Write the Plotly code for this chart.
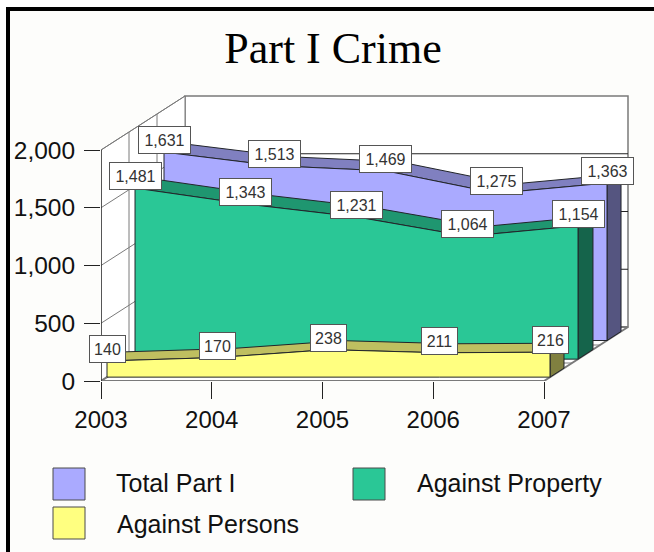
import numpy as np
import plotly.graph_objects as go

# --- DATA ---
YEARS = [2003, 2004, 2005, 2006, 2007]
TOTAL_PART_I = [1631, 1513, 1469, 1275, 1363]
AGAINST_PROPERTY = [1481, 1343, 1231, 1064, 1154]
AGAINST_PERSONS = [140, 170, 238, 211, 216]
Y_TICKS = [0, 500, 1000, 1500, 2000]

# --- STYLES ---
W, H = 654, 552
PLOT_L, PLOT_R, PLOT_T, PLOT_B = 101, 640, 90, 381
PX_PER_YEAR = 110.75
PX_PER_UNIT = 0.1155
DEPTH_PX_X, DEPTH_PX_Y = 84, 54

BG = '#FDFDFB'
WALL_GREY = '#7A7A7A'
OUTLINE = '#22252A'
TICK = '#222222'

# name, values, front face, top face, side face, front depth, back depth
SERIES = [
    ('Total Part I', TOTAL_PART_I, '#AAAAFF', '#8080C0', '#555580', 0.75, 0.917),
    ('Against Property', AGAINST_PROPERTY, '#2AC796', '#1F9670', '#15644B', 0.405, 0.583),
    ('Against Persons', AGAINST_PERSONS, '#FFFF80', '#BFBF60', '#808040', 0.0714, 0.238),
]


def project(years, values, z):
    # shear data points back along the depth axis, still in data units
    x = np.asarray(years, dtype=float) + z * DEPTH_PX_X / PX_PER_YEAR
    y = np.asarray(values, dtype=float) + z * DEPTH_PX_Y / PX_PER_UNIT
    return x, y


def poly(x, y, fill, line=OUTLINE, width=1):
    return go.Scatter(
        x=list(x) + [x[0]], y=list(y) + [y[0]],
        mode='lines', fill='toself', fillcolor=fill,
        line=dict(color=line, width=width),
        hoverinfo='skip', showlegend=False, cliponaxis=False,
    )


def wire(x, y, color=WALL_GREY, width=1):
    return go.Scatter(
        x=x, y=y, mode='lines', line=dict(color=color, width=width),
        hoverinfo='skip', showlegend=False, cliponaxis=False,
    )


def paper_x(px):
    return (px - PLOT_L) / (PLOT_R - PLOT_L)


def paper_y(px):
    return (PLOT_B - px) / (PLOT_B - PLOT_T)


fig = go.Figure()

x0, x1 = YEARS[0], YEARS[-1]
y_top = Y_TICKS[-1]

# back wall
bx, by = project([x0, x1, x1, x0], [0, 0, y_top, y_top], 1)
fig.add_trace(poly(bx, by, 'white', WALL_GREY, 1.5))
for tick in Y_TICKS[1:-1]:
    gx, gy = project([x0, x1], [tick, tick], 1)
    fig.add_trace(wire(gx, gy, '#222222', 1))

# left wall
lx = [project([x0], [v], z)[0][0] for v, z in [(0, 0), (0, 1), (y_top, 1), (y_top, 0)]]
ly = [project([x0], [v], z)[1][0] for v, z in [(0, 0), (0, 1), (y_top, 1), (y_top, 0)]]
fig.add_trace(poly(lx, ly, 'white', WALL_GREY, 1))
for tick in Y_TICKS:
    a = project([x0], [tick], 0)
    b = project([x0], [tick], 1)
    fig.add_trace(wire([a[0][0], b[0][0]], [a[1][0], b[1][0]]))
for z in (1 / 3, 2 / 3):
    gx, gy = project([x0, x0], [0, y_top], z)
    fig.add_trace(wire(gx, gy))

# floor
fx = [project([x], [0], z)[0][0] for x, z in [(x0, 0), (x1, 0), (x1, 1), (x0, 1)]]
fy = [project([x], [0], z)[1][0] for x, z in [(x0, 0), (x1, 0), (x1, 1), (x0, 1)]]
fig.add_trace(poly(fx, fy, 'white', WALL_GREY, 2))
for z in (1 / 3, 2 / 3):
    gx, gy = project([x0, x1], [0, 0], z)
    fig.add_trace(wire(gx, gy))

# the bands, back to front
annotations = []
for name, values, front, top, side, z0, z1 in SERIES:
    zeros = [0] * len(YEARS)
    fx0, fy0 = project(YEARS, values, z0)
    bx0, by0 = project(YEARS, values, z1)
    # top face
    fig.add_trace(poly(np.r_[fx0, bx0[::-1]], np.r_[fy0, by0[::-1]], top))
    # right side
    sx0, sy0 = project([x1, x1], [0, values[-1]], z0)
    sx1, sy1 = project([x1, x1], [values[-1], 0], z1)
    fig.add_trace(poly(np.r_[sx0, sx1], np.r_[sy0, sy1], side))
    # front face
    bfx, bfy = project(YEARS, zeros, z0)
    fig.add_trace(poly(np.r_[fx0, bfx[::-1]], np.r_[fy0, bfy[::-1]], front))
    for fxi, fyi, v in zip(fx0, fy0, values):
        digits = len(f'{v:,}')
        annotations.append(dict(
            x=fxi, y=fyi, xref='x', yref='y', text=f'{v:,}', showarrow=False,
            xanchor='center', yanchor='bottom', yshift=-2,
            font=dict(family='Liberation Sans', size=16, color='#333333'),
            bgcolor='white', bordercolor='#555555', borderwidth=1, borderpad=1,
            width=49 if digits > 3 else 33, height=24, align='center',
        ))

# legend as drawn in the reference: large swatches with text
LEGEND_POS = [(53, 468, 114, 15), (353, 468, 415, 15), (53, 507, 115, 17)]
shapes = [
    # frame
    dict(type='rect', xref='paper', yref='paper', layer='below',
         x0=paper_x(8), x1=paper_x(680), y0=paper_y(9), y1=paper_y(580),
         fillcolor=BG, line=dict(color='black', width=4)),
]
for (name, values, front, top, side, z0, z1), (sx, sy, tx, dy) in zip(SERIES, LEGEND_POS):
    shapes.append(dict(
        type='rect', xref='paper', yref='paper',
        x0=paper_x(sx), x1=paper_x(sx + 32), y0=paper_y(sy), y1=paper_y(sy + 32),
        fillcolor=front, line=dict(color='#4A4A4A', width=1),
    ))
    annotations.append(dict(
        x=paper_x(tx), y=paper_y(sy + dy), xref='paper', yref='paper', text=name,
        showarrow=False, xanchor='left', yanchor='middle',
        font=dict(family='Liberation Sans', size=25, color='#111111'),
    ))

fig.update_layout(
    width=W, height=H,
    autosize=False,
    margin=dict(l=PLOT_L, r=W - PLOT_R, t=PLOT_T, b=H - PLOT_B, pad=0),
    paper_bgcolor='white',
    plot_bgcolor='rgba(0,0,0,0)',
    showlegend=False,
    title=dict(
        text='Part I Crime', x=333 / W, xanchor='center', y=1 - 48 / H, yanchor='middle',
        font=dict(family='Liberation Serif', size=44, color='black'),
    ),
    xaxis=dict(
        automargin=False,
        range=[x0, x0 + (PLOT_R - PLOT_L) / PX_PER_YEAR],
        tickmode='array', tickvals=YEARS, ticktext=[str(y) for y in YEARS],
        ticks='outside', ticklen=17, tickcolor=TICK, tickwidth=1,
        tickfont=dict(family='Liberation Sans', size=24, color='#111111'),
        showgrid=False, zeroline=False, showline=False,
    ),
    yaxis=dict(
        automargin=False,
        range=[0, (PLOT_B - PLOT_T) / PX_PER_UNIT],
        tickmode='array', tickvals=Y_TICKS, tickformat=',d',
        ticks='outside', ticklen=16, tickcolor=TICK, tickwidth=1,
        tickfont=dict(family='Liberation Sans', size=24.5, color='#111111'),
        ticklabelstandoff=4,
        showgrid=False, zeroline=False, showline=False,
    ),
    shapes=shapes,
    annotations=annotations,
)

# y axis line stops at the 2,000 tick and runs below the floor to the year tick
fig.add_trace(wire([x0, x0], [Y_TICKS[0], y_top], '#111111', 1.2))

fig.write_html(
    'out.html',
    config=dict(displayModeBar=False),
    post_script="document.body.style.margin='0';document.body.style.overflow='hidden';",
)
